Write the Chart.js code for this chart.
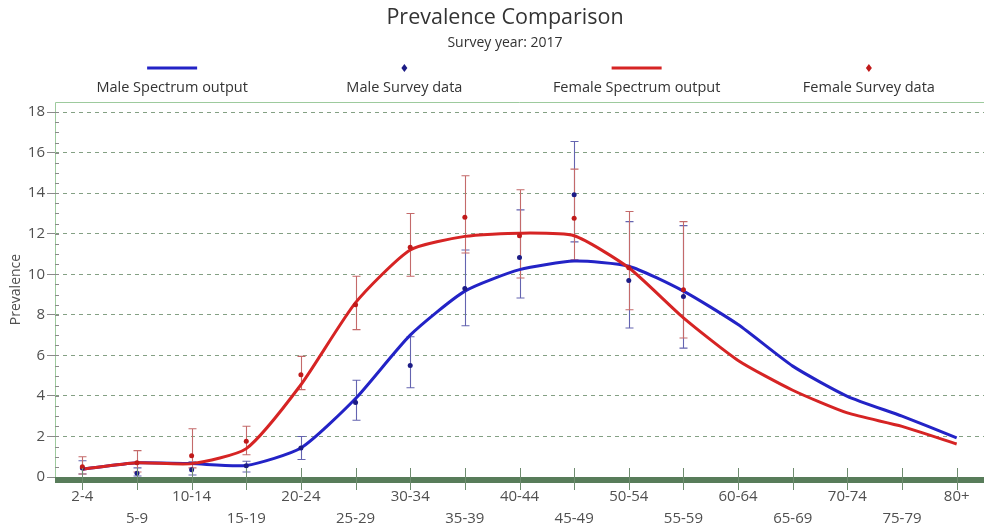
<!DOCTYPE html>
<html>
<head>
<meta charset="utf-8">
<title>Prevalence Comparison</title>
<script src="https://cdn.jsdelivr.net/npm/chart.js@4/dist/chart.umd.min.js"></script>
<style>
  html, body { margin: 0; padding: 0; background: #ffffff; overflow: hidden; }
  #c { display: block; }
</style>
</head>
<body>
<canvas id="c" width="988" height="529"></canvas>
<script>
// Age groups on the x axis
const ageGroups = ['2-4', '5-9', '10-14', '15-19', '20-24', '25-29', '30-34', '35-39',
  '40-44', '45-49', '50-54', '55-59', '60-64', '65-69', '70-74', '75-79', '80+'];

// Model output (%)
const maleSpectrum = [0.38, 0.70, 0.66, 0.57, 1.43, 3.87, 7.00, 9.17, 10.23, 10.65,
  10.40, 9.17, 7.52, 5.47, 3.98, 3.00, 1.93];
const femaleSpectrum = [0.38, 0.70, 0.66, 1.40, 4.55, 8.60, 11.20, 11.87, 12.03, 11.90,
  10.32, 7.85, 5.75, 4.28, 3.16, 2.50, 1.63];

// Survey estimates with confidence limits (%)
const maleSurvey = [0.45, 0.18, 0.36, 0.56, 1.43, 3.68, 5.50, 9.30, 10.83, 13.92, 9.70, 8.90,
  null, null, null, null, null];
const maleLow = [0.15, 0.05, 0.10, 0.25, 0.86, 2.80, 4.40, 7.46, 8.83, 11.60, 7.35, 6.36,
  null, null, null, null, null];
const maleHigh = [0.80, 0.45, 0.75, 0.78, 2.00, 4.77, 6.92, 11.20, 13.18, 16.55, 12.60, 12.40,
  null, null, null, null, null];

const femaleSurvey = [0.50, 0.70, 1.05, 1.76, 5.05, 8.50, 11.34, 12.82, 11.90, 12.77, 10.32, 9.24,
  null, null, null, null, null];
const femaleLow = [0.15, 0.25, 0.45, 1.10, 4.31, 7.27, 9.90, 11.05, 9.82, 10.72, 8.25, 6.86,
  null, null, null, null, null];
const femaleHigh = [1.00, 1.30, 2.38, 2.50, 5.95, 9.90, 13.00, 14.86, 14.17, 15.19, 13.10, 12.60,
  null, null, null, null, null];

// Value axis
const yTicks = [0, 2, 4, 6, 8, 10, 12, 14, 16, 18];
const yMax = 18.5;
const yMinorStep = 0.5;

const FONT = '"Open Sans", "Noto Sans", "DejaVu Sans", sans-serif';
const TEXT = '#505050';

// Vertical confidence bars with caps, drawn beneath the lines and dots
const errorBarPlugin = {
  id: 'errorBars',
  beforeDatasetsDraw(chart) {
    const { ctx } = chart;
    const xs = chart.scales.x, ys = chart.scales.y;
    chart.data.datasets.forEach((ds, di) => {
      if (!ds.errorBars || !chart.isDatasetVisible(di)) return;
      ctx.save();
      ctx.strokeStyle = ds.errorBars.color;
      ctx.lineWidth = 1.1;
      ds.data.forEach((v, i) => {
        const lo = ds.errorBars.low[i], hi = ds.errorBars.high[i];
        if (v == null || lo == null || hi == null) return;
        const px = Math.round(xs.getPixelForValue(i)) + 0.5;
        const yl = ys.getPixelForValue(lo), yh = ys.getPixelForValue(hi);
        ctx.beginPath();
        ctx.moveTo(px, yl); ctx.lineTo(px, yh);
        ctx.moveTo(px - 4, yl); ctx.lineTo(px + 4, yl);
        ctx.moveTo(px - 4, yh); ctx.lineTo(px + 4, yh);
        ctx.stroke();
      });
      ctx.restore();
    });
  }
};

// Plot frame: green top/left edges, minor ticks, heavy baseline with category ticks
const framePlugin = {
  id: 'frame',
  afterDatasetsDraw(chart) {
    const { ctx, chartArea: a } = chart;
    const xs = chart.scales.x, ys = chart.scales.y;
    ctx.save();
    // top and left edges
    ctx.strokeStyle = '#9dca9d';
    ctx.lineWidth = 1;
    ctx.beginPath();
    ctx.moveTo(a.left + 0.5, a.bottom);
    ctx.lineTo(a.left + 0.5, a.top + 0.5);
    ctx.lineTo(a.right, a.top + 0.5);
    ctx.stroke();
    // minor ticks on the value axis
    ctx.strokeStyle = '#8a8a8a';
    ctx.beginPath();
    for (let v = yMinorStep; v < yMax; v += yMinorStep) {
      const py = Math.round(ys.getPixelForValue(v)) + 0.5;
      ctx.moveTo(a.left, py);
      ctx.lineTo(a.left + 4, py);
    }
    ctx.stroke();
    // heavy baseline
    const y0 = ys.getPixelForValue(0);
    ctx.fillStyle = '#587c5a';
    ctx.fillRect(a.left, y0, a.right - a.left, 6);
    // category tick marks crossing the baseline
    ctx.strokeStyle = '#6f8c70';
    ctx.lineWidth = 1;
    ctx.beginPath();
    ageGroups.forEach((g, i) => {
      const px = Math.round(xs.getPixelForValue(i)) + 0.5;
      ctx.moveTo(px, y0 - 9);
      ctx.lineTo(px, y0 + 13);
    });
    ctx.stroke();
    ctx.restore();
  }
};

// Title, subtitle and a legend with each symbol above its label
const headerPlugin = {
  id: 'header',
  afterDraw(chart) {
    const { ctx, chartArea: a } = chart;
    ctx.save();
    ctx.textAlign = 'center';
    ctx.textBaseline = 'middle';
    ctx.fillStyle = '#333333';
    ctx.font = '21.5px ' + FONT;
    ctx.fillText('Prevalence Comparison', 505, 18);
    ctx.font = '14px ' + FONT;
    ctx.fillText('Survey year: 2017', 505, 43);

    const ds = chart.data.datasets;
    const slot = (a.right - a.left) / ds.length;
    ds.forEach((d, i) => {
      const cx = a.left + slot * (i + 0.5) + 1;
      if (d.showLine === false) {
        ctx.fillStyle = d.pointBackgroundColor;
        ctx.beginPath();
        ctx.moveTo(cx, 64); ctx.lineTo(cx + 3, 68); ctx.lineTo(cx, 72); ctx.lineTo(cx - 3, 68);
        ctx.closePath();
        ctx.fill();
      } else {
        ctx.strokeStyle = d.borderColor;
        ctx.lineWidth = 3;
        ctx.beginPath();
        ctx.moveTo(cx - 25, 68); ctx.lineTo(cx + 25, 68);
        ctx.stroke();
      }
      ctx.fillStyle = '#333333';
      ctx.font = '14.5px ' + FONT;
      ctx.fillText(d.label, cx, 88);
    });
    ctx.restore();
  }
};

new Chart(document.getElementById('c'), {
  type: 'line',
  data: {
    labels: ageGroups,
    datasets: [
      {
        label: 'Male Spectrum output',
        data: maleSpectrum,
        borderColor: '#2323c6',
        borderWidth: 3,
        pointRadius: 0,
        tension: 0.2,
        fill: false,
        order: 3
      },
      {
        label: 'Male Survey data',
        data: maleSurvey,
        showLine: false,
        pointRadius: 2.5,
        pointBackgroundColor: '#1c1c86',
        pointBorderWidth: 0,
        order: 1,
        errorBars: { low: maleLow, high: maleHigh, color: '#6464b0' }
      },
      {
        label: 'Female Spectrum output',
        data: femaleSpectrum,
        borderColor: '#d62424',
        borderWidth: 3,
        pointRadius: 0,
        tension: 0.2,
        fill: false,
        order: 2
      },
      {
        label: 'Female Survey data',
        data: femaleSurvey,
        showLine: false,
        pointRadius: 2.5,
        pointBackgroundColor: '#c01a1a',
        pointBorderWidth: 0,
        order: 0,
        errorBars: { low: femaleLow, high: femaleHigh, color: '#c46a6a' }
      }
    ]
  },
  options: {
    responsive: false,
    animation: false,
    events: [],
    layout: { padding: { top: 102, left: 0, right: 0, bottom: 0 } },
    plugins: {
      legend: { display: false },
      title: { display: false },
      tooltip: { enabled: false }
    },
    scales: {
      x: {
        type: 'category',
        offset: true,
        grid: { display: false, drawTicks: false },
        border: { display: false },
        ticks: {
          autoSkip: false,
          maxRotation: 0,
          minRotation: 0,
          padding: 9,
          color: TEXT,
          font: { family: FONT, size: 15, lineHeight: 1.47 },
          callback(value, index) {
            const label = this.getLabelForValue(value);
            return index % 2 ? ['', label] : label;
          }
        },
        afterFit(scale) { scale.height = 52; }
      },
      y: {
        min: 0,
        max: yMax,
        afterBuildTicks(scale) { scale.ticks = yTicks.map(v => ({ value: v })); },
        ticks: {
          padding: 2,
          color: TEXT,
          font: { family: FONT, size: 15 }
        },
        grid: {
          color: '#84a084',
          lineWidth: 1,
          drawTicks: true,
          tickLength: 8,
          tickColor: '#8a8a8a'
        },
        border: { display: false, dash: [4, 4] },
        title: {
          display: true,
          text: 'Prevalence',
          color: TEXT,
          font: { family: FONT, size: 14 },
          padding: { top: 8, bottom: 0 }
        },
        afterFit(scale) { scale.width = 55; }
      }
    }
  },
  plugins: [errorBarPlugin, framePlugin, headerPlugin]
});
</script>
</body>
</html>
